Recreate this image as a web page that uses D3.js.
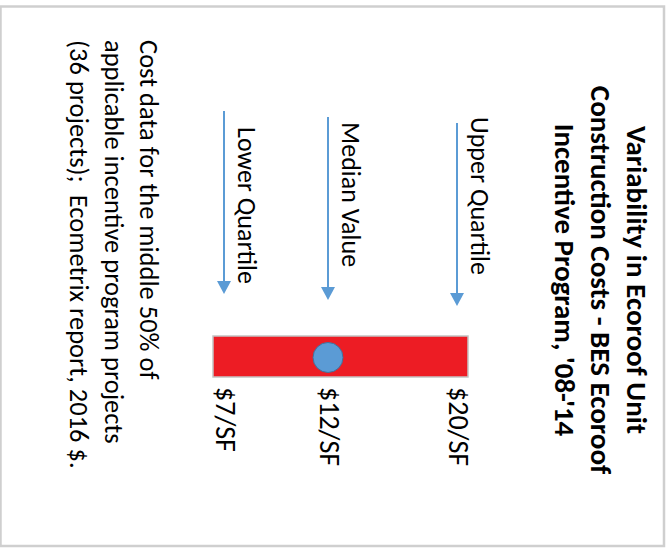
<!DOCTYPE html>
<html>
<head>
<meta charset="utf-8">
<script src="https://cdn.jsdelivr.net/npm/d3@7"></script>
<style>
  html, body { margin: 0; padding: 0; background: #fff; }
  svg { display: block; font-family: Calibri, Carlito, Lato, sans-serif; }
  text { white-space: pre; fill: #000; }
</style>
</head>
<body>
<svg id="chart" width="671" height="548"></svg>
<script>
// Data
const quartileLabels = ["Lower Quartile", "Median Value", "Upper Quartile"];
const quartileValues = [7, 12, 20];
const tickLabels = ["$7/SF", "$12/SF", "$20/SF"];
const medianValue = 12;
const titleLines = [
  "Variability in Ecoroof Unit",
  "Construction Costs - BES Ecoroof",
  "Incentive Program, '08-'14"
];
const noteLines = [
  "Cost data for the middle 50% of",
  "applicable incentive program projects",
  "(36 projects);  Ecometrix report, 2016 $."
];

const W = 671, H = 548;
const BLUE = "#5b9bd5";
const RED = "#ed1c24";

const svg = d3.select("#chart");

// slide frame
svg.append("rect")
  .attr("x", 0.5).attr("y", 6.5)
  .attr("width", 663.5).attr("height", 539.5)
  .attr("fill", "none")
  .attr("stroke", "#cfcfcf")
  .attr("stroke-width", 2.5);

// value scale runs along screen x (the slide is turned a quarter clockwise)
const x = d3.scaleLinear()
  .domain(quartileValues)
  .range([224, 328, 457]);

const BAR_TOP = 336, BAR_BOTTOM = 377, BAR_PAD = 11;

// range bar (middle 50%)
svg.append("rect")
  .attr("x", x(d3.min(quartileValues)) - BAR_PAD)
  .attr("y", BAR_TOP)
  .attr("width", x(d3.max(quartileValues)) - x(d3.min(quartileValues)) + BAR_PAD * 2)
  .attr("height", BAR_BOTTOM - BAR_TOP)
  .attr("fill", RED)
  .attr("stroke", "#c4c4c4")
  .attr("stroke-width", 1.5);

// median dot
svg.append("circle")
  .attr("cx", x(medianValue))
  .attr("cy", (BAR_TOP + BAR_BOTTOM) / 2 + 1)
  .attr("r", 15)
  .attr("fill", BLUE)
  .attr("stroke", "#41719c")
  .attr("stroke-width", 1);

// tick labels under the bar
svg.selectAll("text.tick")
  .data(tickLabels)
  .join("text")
  .attr("class", "tick")
  .attr("transform", (d, i) => `translate(${x(quartileValues[i]) - 8},${BAR_BOTTOM + 10}) rotate(90)`)
  .attr("font-size", 28)
  .text(d => d);

// arrows + labels
const arrows = svg.selectAll("g.arrow")
  .data(quartileLabels)
  .join("g")
  .attr("class", "arrow")
  .attr("transform", (d, i) => `translate(${x(quartileValues[i])},0)`);

arrows.append("line")
  .attr("x1", 0).attr("x2", 0)
  .attr("y1", (d, i) => 111 + i * 6)
  .attr("y2", (d, i) => 283 + i * 6)
  .attr("stroke", BLUE)
  .attr("stroke-width", 2);

arrows.append("path")
  .attr("d", (d, i) => {
    const tip = 294 + i * 6;
    return `M-7,${tip - 13}L7,${tip - 13}L0,${tip}Z`;
  })
  .attr("fill", BLUE);

arrows.append("text")
  .attr("transform", (d, i) => `translate(14,${127 - i * 5}) rotate(90)`)
  .attr("font-size", 26)
  .text(d => d);

// title (bold, centred)
svg.selectAll("text.title")
  .data(titleLines)
  .join("text")
  .attr("class", "title")
  .attr("transform", (d, i) => `translate(${627 - i * 36},280) rotate(90)`)
  .attr("text-anchor", "middle")
  .attr("font-size", 29)
  .attr("font-weight", "bold")
  .text(d => d);

// source note
svg.selectAll("text.note")
  .data(noteLines)
  .join("text")
  .attr("class", "note")
  .attr("transform", (d, i) => `translate(${140 - i * 35},40) rotate(90)`)
  .attr("font-size", 26.5)
  .text(d => d);
</script>
</body>
</html>
